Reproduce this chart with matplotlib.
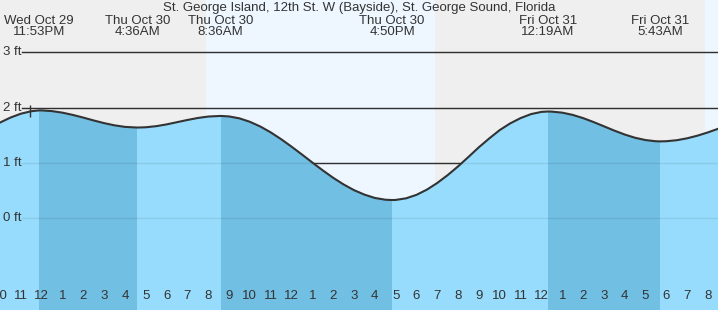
import matplotlib
matplotlib.use('Agg')
import matplotlib.pyplot as plt

plt.rcParams['font.family'] = ['Liberation Sans', 'DejaVu Sans']

# hours counted from Thu Oct 30 00:00, water level in feet
hours = [-2, -1.5, -1, -0.5, -0.117, 0, 0.5, 1, 1.5, 2, 2.5, 3, 3.5, 4, 4.6,
         5, 5.5, 6, 6.5, 7, 7.5, 8, 8.6,
         9, 9.5, 10, 10.5, 11, 11.5, 12, 12.5, 13, 13.5, 14, 14.5, 15, 15.5, 16, 16.5, 16.833,
         17, 17.5, 18, 18.5, 19, 19.5, 20, 20.5, 21, 21.5, 22, 22.5, 23, 23.5, 24, 24.317,
         24.5, 25, 25.5, 26, 26.5, 27, 27.5, 28, 28.5, 29, 29.5, 29.717,
         30, 30.5, 31, 31.5, 32, 32.5, 33]
levels = [1.73, 1.82, 1.89, 1.935, 1.95, 1.95, 1.937, 1.909, 1.868, 1.82, 1.768, 1.72, 1.68, 1.652, 1.64,
          1.645, 1.665, 1.697, 1.737, 1.777, 1.813, 1.839, 1.85,
          1.841, 1.806, 1.744, 1.659, 1.553, 1.43, 1.295, 1.153, 1.008, 0.866, 0.732, 0.612, 0.509,
          0.428, 0.368, 0.336, 0.33,
          0.332, 0.361, 0.424, 0.518, 0.639, 0.781, 0.939, 1.11, 1.285, 1.445, 1.595, 1.715, 1.811,
          1.883, 1.923, 1.93,
          1.928, 1.909, 1.869, 1.811, 1.74, 1.663, 1.585, 1.514, 1.455, 1.414, 1.392, 1.39,
          1.393, 1.411, 1.446, 1.494, 1.553, 1.62, 1.65]

# high / low tides
tide_hours = [-0.117, 4.6, 8.6, 16.833, 24.317, 29.717]
tide_dates = ['Wed Oct 29', 'Thu Oct 30', 'Thu Oct 30', 'Thu Oct 30', 'Fri Oct 31', 'Fri Oct 31']
tide_times = ['11:53PM', '4:36AM', '8:36AM', '4:50PM', '12:19AM', '5:43AM']

# daylight periods (sunrise, sunset)
daylight = [(7.9, 18.9), (31.87, 43.0)]

ft_levels = [3, 2, 1, 0]
now_hour = -0.54
now_level = 1.94

title = 'St. George Island, 12th St. W (Bayside), St. George Sound, Florida'

night_color = '#efefef'
day_color = '#eef7ff'
water_light = '#97dcfc'
water_dark = '#71c0e4'
ink = '#333333'

x0, x1 = -1.982, 32.48
y0, y1 = -1.657, 3.945
fs = 9.5

fig = plt.figure(figsize=(7.18, 3.10), dpi=100)
ax = fig.add_axes([0, 0, 1, 1])
ax.set_xlim(x0, x1)
ax.set_ylim(y0, y1)
ax.set_facecolor(night_color)
for s in ax.spines.values():
    s.set_visible(False)

for start, end in daylight:
    ax.axvspan(start, end, color=day_color, lw=0, zorder=0)

# grid lines (black above water)
for lv in ft_levels:
    ax.axhline(lv, xmin=0.0306, color=ink, lw=1, zorder=1)

# water
water = ax.fill_between(hours, levels, y0 - 1, color=water_light, lw=0, zorder=2)
water_path = water.get_paths()[0]
# falling tide bands are darker
for a, b in zip(tide_hours[:-1], tide_hours[1:]):
    if levels[hours.index(a)] > levels[hours.index(b)]:
        band = ax.axvspan(a, b, color=water_dark, lw=0, zorder=2.1)
        band.set_clip_path(water_path, transform=ax.transData)

# faint grid lines through the water
for lv in ft_levels:
    ax.axhline(lv, xmin=0.0306, color='black', alpha=0.08, lw=1, zorder=3)

ax.plot(hours, levels, color=ink, lw=1.5, zorder=4)
ax.plot(now_hour, now_level, marker='|', markersize=9, markeredgewidth=1, color=ink, zorder=5)

# labels
for lv in ft_levels:
    ax.text(0.004, lv, '%d ft' % lv, transform=ax.get_yaxis_transform(),
            ha='left', va='center', fontsize=fs, color=ink, zorder=6)

ax.text(0.5, 0.975, title, transform=ax.transAxes, ha='center', va='center',
        fontsize=fs, color=ink)
for h, d, t in zip(tide_hours, tide_dates, tide_times):
    ax.text(h, 0.933, d, transform=ax.get_xaxis_transform(), ha='center', va='center',
            fontsize=fs, color=ink)
    ax.text(h, 0.896, t, transform=ax.get_xaxis_transform(), ha='center', va='center',
            fontsize=fs, color=ink)

# hour ticks
tick_hours = list(range(-2, 33))
ax.set_xticks(tick_hours)
ax.set_xticklabels([])
ax.set_yticks([])
ax.tick_params(axis='x', direction='in', length=8, width=1, color=ink)
for h, tick in zip(tick_hours, ax.xaxis.get_major_ticks()):
    tick.tick1line.set_zorder(6)
    if h % 24 == 0:
        tick.tick1line.set_markeredgewidth(3)
        tick.tick1line.set_color('#222222')
    lab = h % 12
    if lab == 0:
        lab = 12
    ax.text(h, 0.046, str(lab), transform=ax.get_xaxis_transform(), ha='center', va='center',
            fontsize=fs, color=ink, zorder=6)

fig.savefig('out.png', dpi=100)
